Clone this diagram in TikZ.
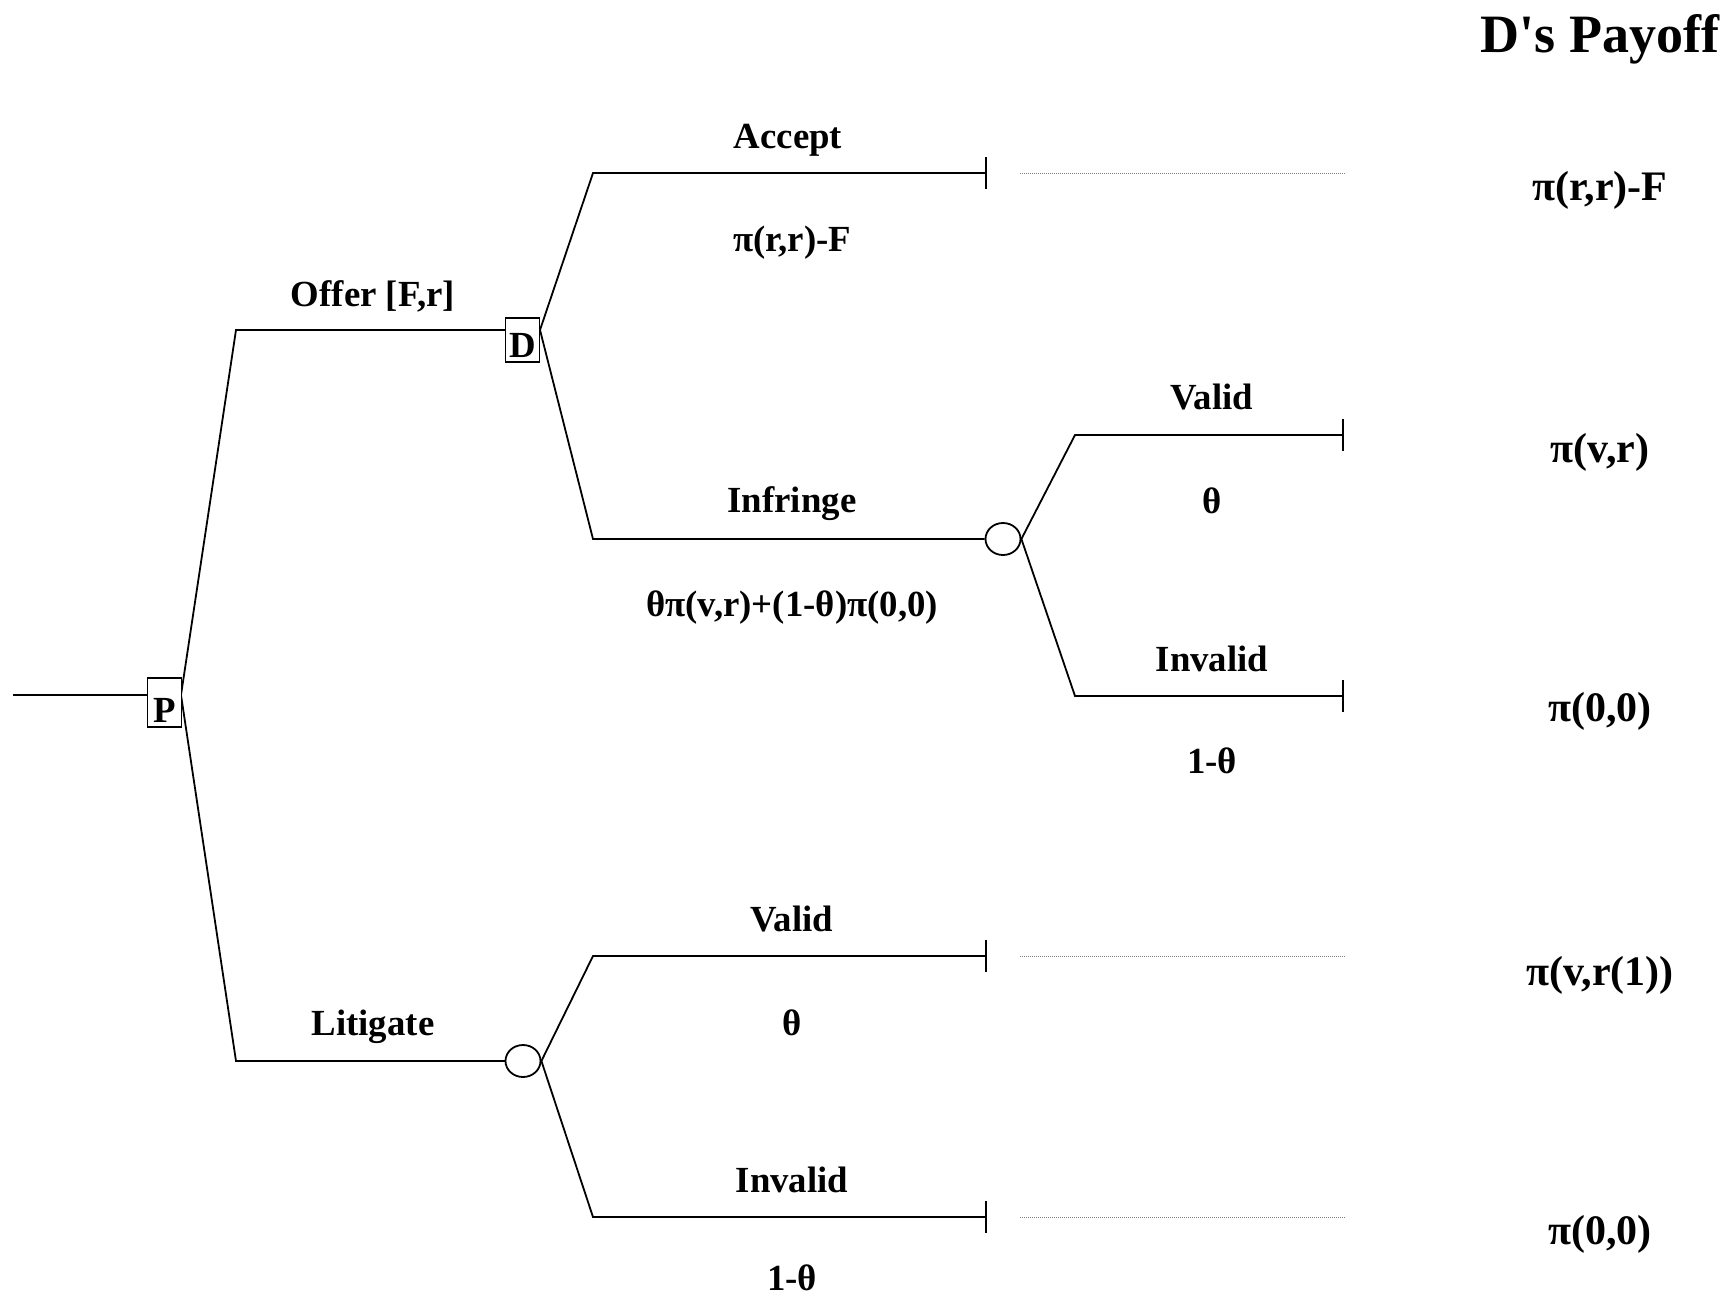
\documentclass[tikz,border=0pt]{standalone}
\usepackage{fontspec}
\setmainfont{Liberation Serif}[Ligatures=TeXOff]
\usetikzlibrary{arrows.meta,shapes.geometric}

\begin{document}
\begin{tikzpicture}[
        x=0.5pt, y=-0.5pt,
        line width=0.9pt,
        every node/.style={font=\bfseries\fontsize{18.4}{22}\selectfont, inner sep=0pt},
        decbox/.style={rectangle, draw, fill=white, minimum width=17pt, inner ysep=0pt, text depth=2.5pt, anchor=base},
        chance/.style={ellipse, draw, fill=white, minimum width=17.5pt, minimum height=16pt},
        leaf/.style={-{Bar[width=16pt]}},
        guide/.style={gray, line width=0.5pt, dash pattern=on 0.6pt off 0.4pt},
        payoff/.style={font=\bfseries\fontsize{21}{25}\selectfont}
    ]
    \useasboundingbox (0,0) rectangle (1729,1296);

    \coordinate (start) at (13,695);
    \coordinate (p) at (181,695);
    \coordinate (offer) at (236,330);
    \coordinate (d) at (540,330);
    \coordinate (accept) at (593,173);
    \coordinate (acceptend) at (987,173);
    \coordinate (infringe) at (593,539);
    \coordinate (valid) at (1075,435);
    \coordinate (validend) at (1344,435);
    \coordinate (invalid) at (1075,696);
    \coordinate (invalidend) at (1344,696);
    \coordinate (litigate) at (236,1061);
    \coordinate (lvalid) at (593,956);
    \coordinate (lvalidend) at (987,956);
    \coordinate (linvalid) at (593,1217);
    \coordinate (linvalidend) at (987,1217);

    \draw (start) -- (p);
    \draw (p) -- (offer) -- (d);
    \draw (p) -- (litigate) -- (523,1061);

    \node[decbox, text height=22pt] (pbox) at (164.5,722) {P};
    \node[decbox, text height=19.5pt] (dbox) at (522.5,357) {D};
    \node[chance] (nature1) at (1003,539) {};
    \node[chance] (nature2) at (523,1061) {};

    \draw[leaf] (d) -- (accept) -- (acceptend);
    \draw (d) -- (infringe) -- (nature1);
    \draw[leaf] (nature1.east) -- (valid) -- (validend);
    \draw[leaf] (nature1.east) -- (invalid) -- (invalidend);
    \draw[leaf] (nature2.east) -- (lvalid) -- (lvalidend);
    \draw[leaf] (nature2.east) -- (linvalid) -- (linvalidend);

    \draw[guide] (1020,173) -- (1345,173);
    \draw[guide] (1020,956) -- (1345,956);
    \draw[guide] (1020,1217) -- (1345,1217);

    \node (lbloffer) at (373,296) {Offer [F,r]};
    \node (lbllitigate) at (373,1027) {Litigate};
    \node (lblaccept) at (788,140) {Accept};
    \node (valaccept) at (792,243) {π(r,r)-F};
    \node (lblinfringe) at (792,504) {Infringe};
    \node (valinfringe) at (792,608) {θπ(v,r)+(1-θ)π(0,0)};
    \node (lblvalid) at (1212,397) {Valid};
    \node (probvalid) at (1212,501) {θ};
    \node (lblinvalid) at (1212,659) {Invalid};
    \node (probinvalid) at (1212,761) {1-θ};
    \node (lbllvalid) at (792,919) {Valid};
    \node (problvalid) at (792,1023) {θ};
    \node (lbllinvalid) at (792,1180) {Invalid};
    \node (problinvalid) at (792,1278) {1-θ};

    \node[font=\bfseries\fontsize{27}{32}\selectfont] (header) at (1600,39) {D's Payoff};
    \node[payoff] (pay1) at (1600,190) {π(r,r)-F};
    \node[payoff] (pay2) at (1600,452) {π(v,r)};
    \node[payoff] (pay3) at (1600,711) {π(0,0)};
    \node[payoff] (pay4) at (1600,975) {π(v,r(1))};
    \node[payoff] (pay5) at (1600,1234) {π(0,0)};
\end{tikzpicture}
\end{document}
